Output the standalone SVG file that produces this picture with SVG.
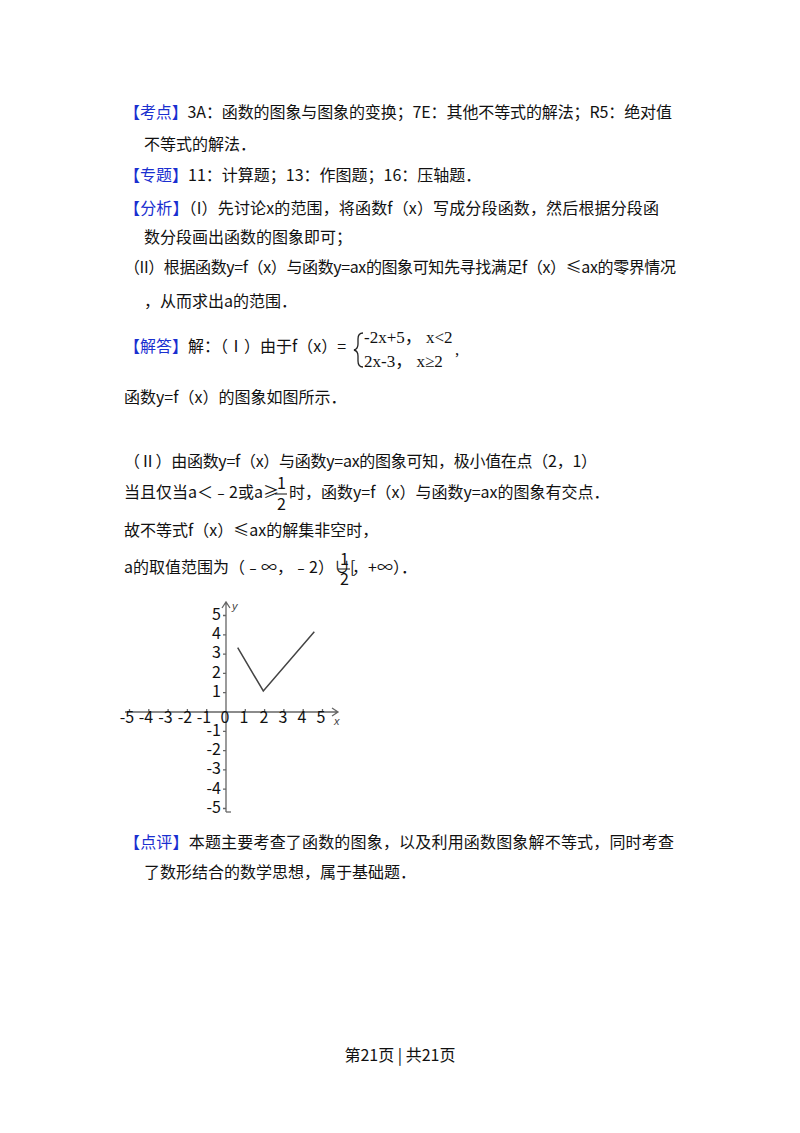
<svg xmlns="http://www.w3.org/2000/svg" width="800" height="1133" viewBox="0 0 800 1133">
<style>
text{font-family:"Noto Sans CJK SC","Noto Sans",sans-serif;font-size:16px;fill:#111}
.b{fill:#1a2fd0}
.s{font-family:"Liberation Serif","Noto Sans CJK SC",serif;font-size:17px}
.g{font-family:"Liberation Sans",sans-serif;font-size:11px;fill:#444}
.ax{stroke:#666;stroke-width:1.3;fill:none}
</style>
<rect width="800" height="1133" fill="#fff"/>
<g id="text">
<text x="124" y="118" textLength="548"><tspan class="b">【考点】</tspan>3A：函数的图象与图象的变换；7E：其他不等式的解法；R5：绝对值</text>
<text x="144" y="150">不等式的解法．</text>
<text x="124" y="181"><tspan class="b">【专题】</tspan>11：计算题；13：作图题；16：压轴题．</text>
<text x="124" y="214" textLength="535"><tspan class="b">【分析】</tspan>（I）先讨论x的范围，将函数f（x）写成分段函数，然后根据分段函</text>
<text x="144" y="243">数分段画出函数的图象即可；</text>
<text x="124" y="273" textLength="552">（II）根据函数y=f（x）与函数y=ax的图象可知先寻找满足f（x）≤ax的零界情况</text>
<text x="144" y="307">，从而求出a的范围．</text>
<text x="124" y="352"><tspan class="b">【解答】</tspan>解：（Ⅰ）由于f（x）=</text>
<path d="M363 333 q-5 0 -5 6 v5 q0 5 -4 6 q4 1 4 6 v5 q0 6 5 6" fill="none" stroke="#222" stroke-width="1.3"/>
<text class="s" x="364" y="343">-2x+5， x&lt;2</text>
<text class="s" x="364" y="367">2x-3， x≥2</text>
<text class="s" x="455" y="355">,</text>
<text x="124" y="403">函数y=f（x）的图象如图所示．</text>
<text x="124" y="467" textLength="473">（Ⅱ）由函数y=f（x）与函数y=ax的图象可知，极小值在点（2，1）</text>
<text x="124" y="498">当且仅当a＜﹣2或a≥</text>
<text x="277" y="489" font-size="14">1</text>
<line x1="275" y1="494" x2="287" y2="494" stroke="#111"/>
<text x="277" y="510" font-size="14">2</text>
<text x="289" y="498">时，函数y=f（x）与函数y=ax的图象有交点．</text>
<text x="124" y="536">故不等式f（x）≤ax的解集非空时，</text>
<text x="124" y="573">a的取值范围为（﹣∞，﹣2）∪[</text>
<text id="fr" x="0" y="0" visibility="hidden"></text>
<g transform="translate(0,0)">
<text x="340" y="565" font-size="14">1</text>
<line x1="338" y1="569" x2="350" y2="569" stroke="#111"/>
<text x="340" y="585" font-size="14">2</text>
<text x="352" y="573">，+∞）．</text>
</g>
<text x="124" y="848" textLength="550"><tspan class="b">【点评】</tspan>本题主要考查了函数的图象，以及利用函数图象解不等式，同时考查</text>
<text x="144" y="878">了数形结合的数学思想，属于基础题．</text>
<text x="400" y="1061" text-anchor="middle" font-size="13">第21页 | 共21页</text>
</g>
<g id="graph">
<path class="ax" d="M125 712 H338 M332 708 L338 712 L332 716 M226 812 V602 M222 608 L226 602 L230 608"/>
<path class="ax" d="M226 812 h5" />
<g class="ax">
<path d="M129.5 712v-3M148.8 712v-3M168.1 712v-3M187.4 712v-3M206.7 712v-3M245.3 712v-3M264.6 712v-3M283.9 712v-3M303.2 712v-3M322.5 712v-3"/>
<path d="M226 615.5h-3M226 634.8h-3M226 654.1h-3M226 673.4h-3M226 692.7h-3M226 731.3h-3M226 750.6h-3M226 769.9h-3M226 789.2h-3M226 808.5h-3"/>
</g>
<path d="M237.7 647.7 L263.3 691 L314.3 631.7" fill="none" stroke="#444" stroke-width="1.5"/>
<g class="g" text-anchor="middle">
<text x="127" y="723">-5</text><text x="146" y="723">-4</text><text x="165.5" y="723">-3</text><text x="185" y="723">-2</text><text x="204" y="723">-1</text><text x="225" y="723">0</text>
<text x="244" y="723">1</text><text x="264" y="723">2</text><text x="283" y="723">3</text><text x="302" y="723">4</text><text x="321" y="723">5</text>
</g>
<g class="g" text-anchor="end">
<text x="221" y="620">5</text><text x="221" y="639">4</text><text x="221" y="658">3</text><text x="221" y="678">2</text><text x="221" y="697">1</text>
<text x="221" y="736">-1</text><text x="221" y="755">-2</text><text x="221" y="774">-3</text><text x="221" y="794">-4</text><text x="221" y="813">-5</text>
</g>
<text class="g" x="232" y="610" font-style="italic" font-size="13">y</text>
<text class="g" x="334" y="725" font-style="italic" font-size="13">x</text>
</g>
</svg>
